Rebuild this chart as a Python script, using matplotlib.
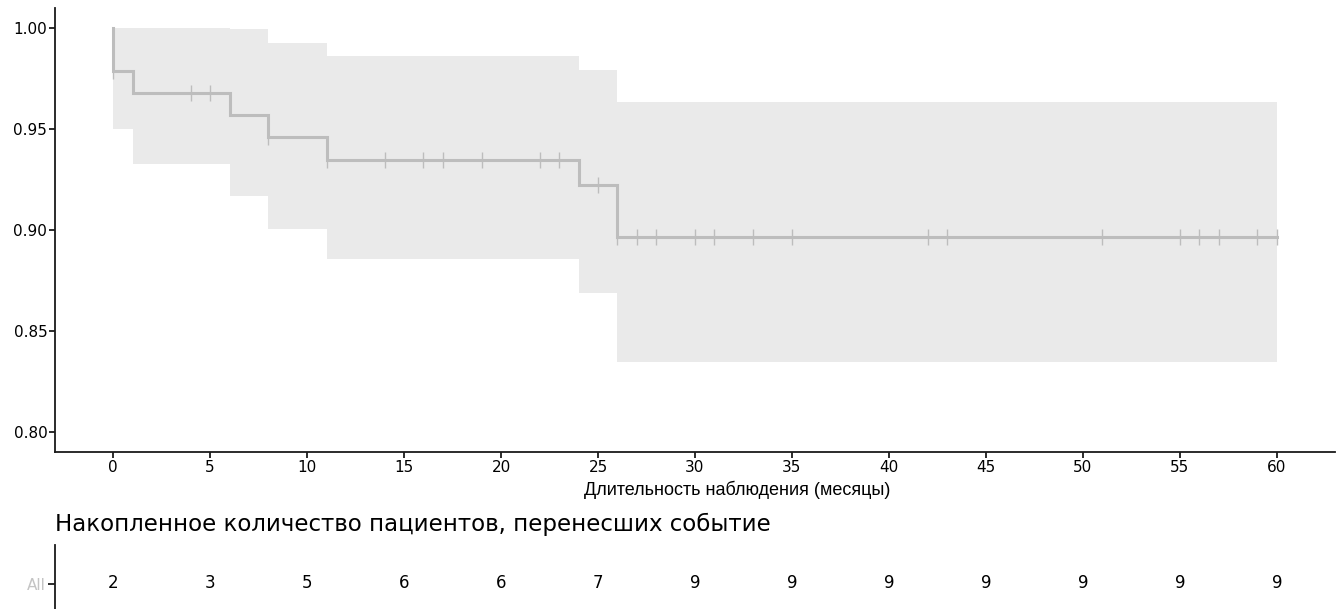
import numpy as np
import matplotlib
matplotlib.use('Agg')
import matplotlib.pyplot as plt

# ---- data ----
event_times = [0, 1, 6, 8, 11, 24, 26]
surv = [0.9787, 0.9681, 0.9569, 0.9460, 0.9348, 0.9224, 0.8967]
upper = [1.0, 1.0, 0.9995, 0.9929, 0.9864, 0.9794, 0.9635]
lower = [0.9500, 0.9328, 0.9166, 0.9006, 0.8856, 0.8690, 0.8347]
end_time = 60
censor_times = [0, 4, 5, 8, 11, 14, 16, 17, 19, 22, 23, 25, 26, 27, 28, 30,
                31, 33, 35, 42, 43, 51, 55, 56, 57, 59, 60]
risk_times = [0, 5, 10, 15, 20, 25, 30, 35, 40, 45, 50, 55, 60]
risk_counts = [2, 3, 5, 6, 6, 7, 9, 9, 9, 9, 9, 9, 9]
strata_label = 'All'
y_ticks = [0.80, 0.85, 0.90, 0.95, 1.00]
x_label = 'Длительность наблюдения (месяцы)'
risk_title = 'Накопленное количество пациентов, перенесших событие'

# ---- style ----
plt.rcParams['font.family'] = ['Liberation Sans', 'DejaVu Sans']
wide = ['DejaVu Sans']
line_color = '#BDBDBD'
fill_color = '#EAEAEA'
spine_color = '#1a1a1a'

W, H = 1342, 609
fig = plt.figure(figsize=(W / 100, H / 100), dpi=100)


def rect(l, t, r, b):
    return [l / W, 1 - b / H, (r - l) / W, (b - t) / H]


ax = fig.add_axes(rect(55, 8, 1335, 452))
ax.set_xlim(-3, 63)
ax.set_ylim(0.79, 1.01)

ci_x = event_times + [end_time]
ax.fill_between(ci_x, lower + [lower[-1]], upper + [upper[-1]], step='post',
                color=fill_color, lw=0, zorder=1)

xs = [0] + event_times + [end_time]
ys = [1.0] + surv + [surv[-1]]
ax.step(xs, ys, where='post', color=line_color, lw=2.2, zorder=2,
        solid_joinstyle='miter')

idx = np.searchsorted(event_times, censor_times, side='right') - 1
cy = np.array(surv)[idx]
ax.plot(censor_times, cy, ls='none', marker='|', ms=12, mew=1.0,
        color=line_color, zorder=3)

for s in ['top', 'right']:
    ax.spines[s].set_visible(False)
for s in ['left', 'bottom']:
    ax.spines[s].set_linewidth(1.3)
    ax.spines[s].set_color(spine_color)
ax.set_xticks(risk_times)
ax.set_yticks(y_ticks)
ax.set_yticklabels([f'{v:.2f}' for v in y_ticks])
ax.tick_params(axis='both', length=4, width=1.3, color=spine_color,
               labelsize=11, labelcolor='black')
ax.tick_params(axis='x', pad=2)
ax.tick_params(axis='y', pad=1.5)
for lab in ax.get_xticklabels() + ax.get_yticklabels():
    lab.set_family(wide)

fig.text(737 / W, 1 - 490 / H, x_label, ha='center', va='center', fontsize=13)
fig.text(55 / W, 1 - 531.5 / H, risk_title, ha='left', va='baseline',
         fontsize=16.5, family=wide)

# ---- risk table ----
ax2 = fig.add_axes(rect(55, 545, 1335, 622))
ax2.set_xlim(-3, 63)
ax2.set_ylim(-1, 1)
for t, c in zip(risk_times, risk_counts):
    ax2.text(t, 0, str(c), ha='center', va='center', fontsize=12, family=wide)
for s in ['top', 'right', 'bottom']:
    ax2.spines[s].set_visible(False)
ax2.spines['left'].set_linewidth(1.3)
ax2.spines['left'].set_color(spine_color)
ax2.set_xticks([])
ax2.set_yticks([0])
ax2.set_yticklabels([strata_label])
ax2.tick_params(axis='y', length=5, width=1.3, color=spine_color,
                labelsize=11, labelcolor='#C4C4C4', pad=1.5)
for lab in ax2.get_yticklabels():
    lab.set_family(wide)
ax2.patch.set_alpha(0)

fig.savefig('out.png', dpi=100)
